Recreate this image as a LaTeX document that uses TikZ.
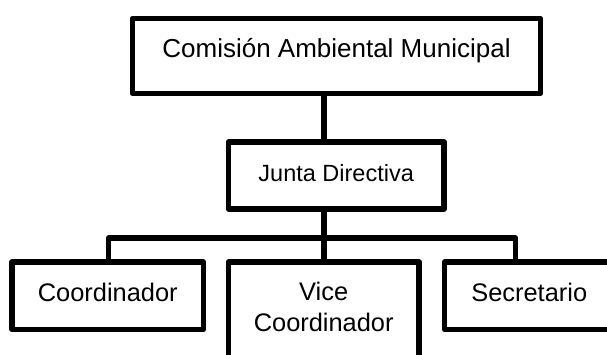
\documentclass[tikz,border=0pt]{standalone}
\usepackage{fontspec}
\setmainfont{Liberation Sans}
\begin{document}
\begin{tikzpicture}[x=1pt,y=-1pt,line width=5.2pt,line join=round]
\clip (0,0) rectangle (607,354);
\fill[white] (0,0) rectangle (607,354);
\coordinate (trunk) at (324,0);
\coordinate (lft) at (108.5,0);
\coordinate (rgt) at (515.8,0);
\coordinate (bus) at (0,238);
\begin{scope}[every node/.style={rectangle,draw,inner sep=0pt,text height=17pt,text depth=6pt,font=\fontsize{25.4}{31.7}\selectfont}]
    \node[minimum width=408pt,minimum height=75pt,text height=18pt,text depth=16pt,font=\fontsize{26}{30}\selectfont] (com) at (336.5,56) {Comisión Ambiental Municipal};
    \node[minimum width=215.7pt,minimum height=67pt,font=\fontsize{23.5}{28}\selectfont] (junta) at (336.2,175.5) {Junta Directiva};
    \node[minimum width=191.5pt,minimum height=67.5pt] (coord) at (107.75,295.75) {Coordinador};
    \node[minimum width=190.7pt,minimum height=103pt,align=center,text height=50.2pt,text depth=13.8pt] (vice) at (323.7,313.5) {Vice\\Coordinador};
    \node[minimum width=169.5pt,minimum height=67.5pt] (secr) at (529.25,295.75) {Secretario};

    \draw (com.south -| trunk) -- (junta.north -| trunk);
    \draw (junta.south -| trunk) -- (vice.north -| trunk);
    \draw (coord.north -| lft) |- (rgt |- bus) -- (secr.north -| rgt);
\end{scope}
\end{tikzpicture}
\end{document}
